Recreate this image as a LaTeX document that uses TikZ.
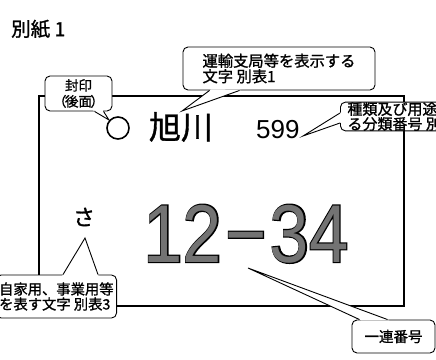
\documentclass[tikz,border=0pt]{standalone}
\usepackage{fontspec}
\setmainfont{Liberation Sans}
\newfontfamily\jp{Noto Sans CJK JP}[FakeBold=1.2]
\newfontfamily\plateout{Liberation Sans}[FakeBold=3]
\usetikzlibrary{calc}
\tikzset{
  plate/.style={draw, line width=1.6pt},
  callout/.style={draw, fill=white, rounded corners=5pt, line width=0.9pt, inner sep=0pt},
  callline/.style={line width=0.9pt, line join=miter},
  plain/.style={inner sep=0pt},
}
\newcommand\callptr[3]{%
  \fill[white] ($(#1)!-2pt!(#2)$) -- (#2) -- ($(#3)!-2pt!(#2)$) -- cycle;
  \draw[callline] (#1) -- (#2) -- (#3);
}
\begin{document}
\begin{tikzpicture}[x=1pt,y=-1pt]
\useasboundingbox (0,0) rectangle (436,359);
\clip (0,0) rectangle (436,359);
\fill[white] (0,0) rectangle (436,359);

% header
\node[plain, anchor=west, font=\jp\fontsize{19.5}{19.5}\selectfont] (title) at (11,29) {別紙 1};

% plate
\draw[plate] (39,96) rectangle (404,306);
\node[circle, draw, line width=1.6pt, minimum size=22pt, inner sep=0pt] (seal) at (118,128) {};
\node[plain, font=\jp\fontsize{32}{32}\selectfont] (office) at (181,127) {旭川};
\node[plain, anchor=base west, font=\fontsize{26}{26}\selectfont] (cls) at (256,138) {599};
\node[plain, font=\jp\fontsize{22}{22}\selectfont] (kana) at (84,217) {さ};
\node[plain, anchor=base, font=\plateout\fontsize{82}{82}\selectfont] (numo) at (246,262)
  {\scalebox{0.86}[1]{12\kern4pt−\kern4pt34}};
\node[plain, anchor=base, font=\fontsize{82}{82}\selectfont, text=black!55] (num) at (246,262)
  {\scalebox{0.86}[1]{12\kern4pt−\kern4pt34}};

% callouts
\node[callout, minimum width=67pt, minimum height=35pt, align=center,
      font=\jp\fontsize{13.5}{16}\selectfont] (c1) at (78.5,93.5) {封印\\（\kern-1.5pt後面\kern-1.5pt）};
\node[callout, minimum width=192pt, minimum height=43pt, align=left,
      font=\jp\fontsize{15.3}{15.5}\selectfont] (c2) at (279,68.5) {運輸支局等を表示する\\文字 別表1};
\node[callout, anchor=west, minimum height=27pt, inner xsep=7pt, align=left,
      font=\jp\fontsize{15}{13}\selectfont] (c3) at (340,116.5) {種類及び用途を表示す\\る分類番号 別表2};
\node[callout, anchor=east, minimum height=43pt, inner xsep=3pt, align=left,
      font=\jp\fontsize{14.3}{15}\selectfont] (c4) at (117,296.5) {自家用、事業用等\\を表す文字 別表3};
\node[callout, minimum width=83pt, minimum height=33pt,
      font=\jp\fontsize{14.5}{15}\selectfont] (c5) at (393.5,336.5) {一連番号};

% pointer tips
\coordinate (t1) at (109,120);
\coordinate (t2) at (182,111);
\coordinate (t3) at (303,136);
\coordinate (t4) at (85,238);
\coordinate (t5) at (248,268);
% pointer bases
\coordinate (a1) at ($(c1.south west)+(50,0)$);
\coordinate (b1) at ($(c1.south west)+(59,0)$);
\coordinate (a2) at ($(c2.south west)+(27,0)$);
\coordinate (b2) at ($(c2.south west)+(57,0)$);
\coordinate (a3) at ($(c3.west)+(0,-3.5)$);
\coordinate (b3) at ($(c3.west)+(0,6.5)$);
\coordinate (a4) at ($(c4.north east)+(-54,0)$);
\coordinate (b4) at ($(c4.north east)+(-19,0)$);
\coordinate (a5) at ($(c5.north west)+(8,0)$);
\coordinate (b5) at ($(c5.north west)+(36,0)$);

\callptr{a1}{t1}{b1}
\callptr{a2}{t2}{b2}
\callptr{a3}{t3}{b3}
\callptr{a4}{t4}{b4}
\callptr{a5}{t5}{b5}
\end{tikzpicture}
\end{document}
